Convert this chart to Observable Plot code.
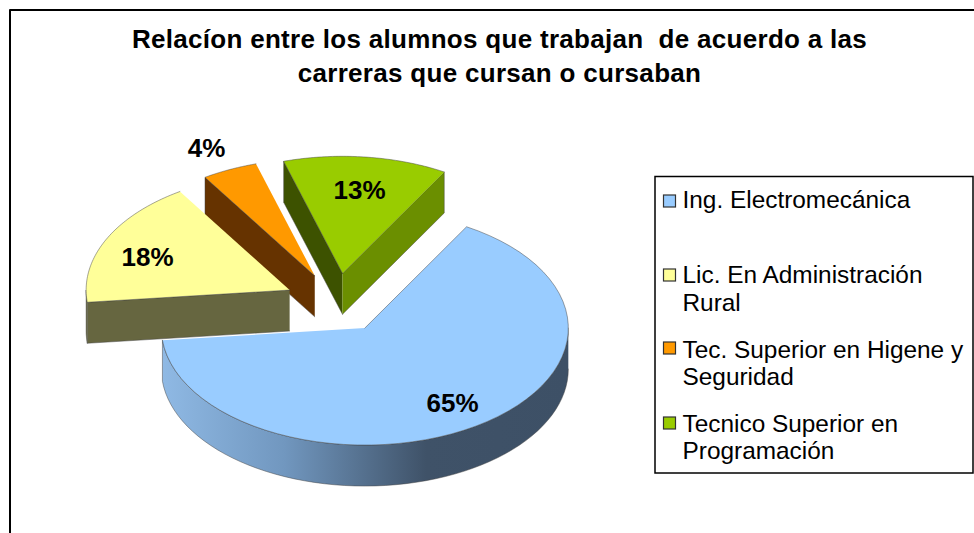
<!DOCTYPE html>
<html>
<head>
<meta charset="utf-8">
<script src="https://cdn.jsdelivr.net/npm/d3@7"></script>
<script src="https://cdn.jsdelivr.net/npm/@observablehq/plot@0.6"></script>
<style>html,body{margin:0;padding:0;background:#fff}svg{display:block}.ttl text{letter-spacing:.3px}</style>
</head>
<body>
<div id="chart"></div>
<script>
const categories = ["Ing. Electromecánica", "Lic. En Administración Rural", "Tec. Superior en Higene y Seguridad", "Tecnico Superior en Programación"];
const percents = [65, 17.6, 4.4, 13];
const topColors = ["#99ccff", "#ffff99", "#ff9900", "#99cc00"];
const startFaceColors = ["#4d6680", "#666640", "#663300", "#3d5200"];
const endFaceColors = ["#4d6680", "#666640", "#663300", "#6b8f00"];
const titleLines = ["Relacíon entre los alumnos que trabajan  de acuerdo a las", "carreras que cursan o cursaban"];
const legendLines = [["Ing. Electromecánica"], ["Lic. En Administración", "Rural"], ["Tec. Superior en Higene y", "Seguridad"], ["Tecnico Superior en", "Programación"]];

// Pie projection
const W = 974, H = 533;
const cx = 336, cy = 302.5, rx = 203.5, ry = 117, depth = 41, explode = 52, firstAngle = 30;
const FONT = "Liberation Sans, Arial, sans-serif";

const rad = d => d * Math.PI / 180;
const total = d3.sum(percents);
let acc = firstAngle;
const slices = percents.map((v, i) => {
  const a0 = acc, a1 = acc + v / total * 360;
  acc = a1;
  const mid = rad((a0 + a1) / 2);
  const ox = cx + explode * Math.sin(mid), oy = cy - explode * Math.cos(mid) * ry / rx;
  const pt = (deg, drop = 0) => ({x: ox + rx * Math.sin(rad(deg)), y: oy - ry * Math.cos(rad(deg)) + drop});
  const arc = (from, to, drop = 0) => d3.range(0, 61).map(k => pt(from + (to - from) * k / 60, drop));
  return {i, a0, a1, ox, oy, pt, arc};
});

const faces = [];
for (const s of [slices[3], slices[2], slices[1], slices[0]]) {
  const apex = {x: s.ox, y: s.oy}, apexLow = {x: s.ox, y: s.oy + depth};
  if (Math.sin(rad(s.a0)) < 0) faces.push({fill: startFaceColors[s.i], pts: [apex, s.pt(s.a0), s.pt(s.a0, depth), apexLow]});
  if (Math.sin(rad(s.a1)) > 0) faces.push({fill: endFaceColors[s.i], pts: [apex, s.pt(s.a1), s.pt(s.a1, depth), apexLow]});
  const r0 = Math.max(s.a0, 90), r1 = Math.min(s.a1, 270);
  if (r1 > r0) faces.push({fill: s.i === 0 ? "url(#rim)" : startFaceColors[s.i], pts: [...s.arc(r0, r1), ...s.arc(r1, r0, depth)]});
  faces.push({fill: topColors[s.i], pts: [apex, ...s.arc(s.a0, s.a1)]});
}

const defs = () => {
  const svgNS = "http://www.w3.org/2000/svg";
  const d = document.createElementNS(svgNS, "defs");
  d.innerHTML = `<linearGradient id="rim" x1="0" x2="1" y1="0" y2="0">
    <stop offset="0" stop-color="#8fb9e4"/><stop offset="0.3" stop-color="#7197bf"/>
    <stop offset="0.65" stop-color="#3f5268"/><stop offset="1" stop-color="#3d5066"/></linearGradient>`;
  return d;
};

const labels = [
  {t: Math.round(percents[0]) + "%", x: 452, y: 403},
  {t: Math.round(percents[1]) + "%", x: 147, y: 257},
  {t: Math.round(percents[2]) + "%", x: 206, y: 148},
  {t: Math.round(percents[3]) + "%", x: 359, y: 190}
];
const titleRows = titleLines.map((t, k) => ({t, x: 499, y: 47 + k * 34}));
const swatchY = [201, 275, 348, 423];
const lineY = [[207], [282, 310], [357, 384], [431, 458]];
const legendRows = legendLines.flatMap((ls, i) => ls.map((t, k) => ({t, x: 682, y: lineY[i][k]})));
const swatches = topColors.map((fill, i) => ({fill, x1: 663.5, x2: 675.5, y1: swatchY[i] - 6, y2: swatchY[i] + 6}));

const chart = Plot.plot({
  width: W, height: H,
  margin: 0,
  x: {domain: [0, W], range: [0, W], axis: null},
  y: {domain: [0, H], range: [0, H], axis: null},
  style: {fontFamily: FONT, background: "#fff"},
  marks: [
    defs,
    Plot.line([{x: 9.5, y: H}, {x: 9.5, y: 9.5}, {x: W, y: 9.5}], {x: "x", y: "y", stroke: "#000", strokeWidth: 2}),
    ...faces.map(f => Plot.line(f.pts, {x: "x", y: "y", fill: f.fill, stroke: "#444", strokeWidth: 0.6, strokeOpacity: 0.8})),
    Plot.text(titleRows, {x: "x", y: "y", text: "t", fontSize: 26, fontWeight: "bold", fill: "#000", textAnchor: "middle", lineAnchor: "bottom", className: "ttl"}),
    Plot.text(labels, {x: "x", y: "y", text: "t", fontSize: 26, fontWeight: "bold", fill: "#000", textAnchor: "middle", lineAnchor: "middle"}),
    Plot.rect([{x1: 655, x2: 973, y1: 176.5, y2: 473}], {x1: "x1", x2: "x2", y1: "y1", y2: "y2", fill: "#fff", stroke: "#000", strokeWidth: 1.5}),
    Plot.rect(swatches, {x1: "x1", x2: "x2", y1: "y1", y2: "y2", fill: "fill", stroke: "#333", strokeWidth: 1.2}),
    Plot.text(legendRows, {x: "x", y: "y", text: "t", fontSize: 24.4, fill: "#000", textAnchor: "start", lineAnchor: "bottom"})
  ]
});
document.getElementById("chart").appendChild(chart);
</script>
</body>
</html>
